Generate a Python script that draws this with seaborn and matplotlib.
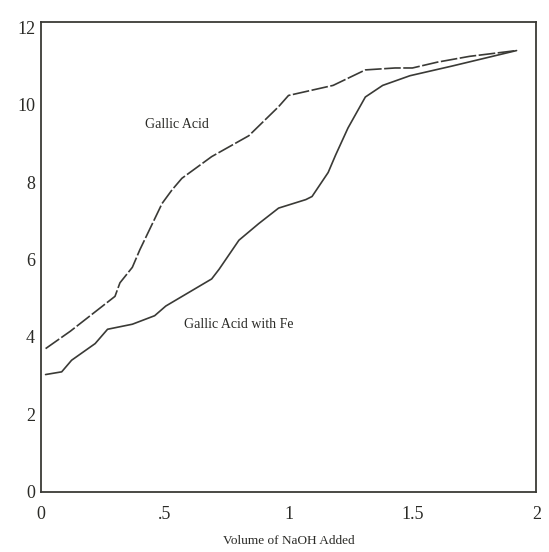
import matplotlib
matplotlib.use("Agg")
import matplotlib.pyplot as plt
import seaborn as sns
import pandas as pd

# Gallic Acid titration curve
ga_x = [0.02, 0.12, 0.23, 0.30, 0.32, 0.37, 0.40, 0.49, 0.53, 0.57, 0.69, 0.84, 0.96, 1.00,
        1.18, 1.31, 1.43, 1.50, 1.60, 1.73, 1.92]
ga_y = [3.7, 4.15, 4.7, 5.05, 5.4, 5.8, 6.25, 7.45, 7.8, 8.1, 8.66, 9.2, 9.95, 10.24,
        10.5, 10.9, 10.95, 10.95, 11.1, 11.25, 11.4]

# Gallic Acid with Fe titration curve
fe_x = [0.02, 0.085, 0.125, 0.22, 0.27, 0.37, 0.46, 0.505, 0.69, 0.72, 0.80, 0.88,
        0.96, 1.02, 1.07, 1.095, 1.16, 1.19, 1.24, 1.31, 1.38, 1.49, 1.66, 1.92]
fe_y = [3.03, 3.1, 3.4, 3.83, 4.2, 4.33, 4.55, 4.8, 5.5, 5.75, 6.5, 6.93,
        7.33, 7.45, 7.55, 7.63, 8.25, 8.7, 9.4, 10.2, 10.5, 10.75, 11.0, 11.4]

x_ticks = [0, 0.5, 1, 1.5, 2]
x_tick_labels = ["0", ".5", "1", "1.5", "2"]
y_ticks = [0, 2, 4, 6, 8, 10, 12]

sns.set_style("white")
plt.rcParams["font.family"] = ["Liberation Serif", "DejaVu Serif"]

df = pd.concat([
    pd.DataFrame({"vol": ga_x, "pH": ga_y, "series": "Gallic Acid"}),
    pd.DataFrame({"vol": fe_x, "pH": fe_y, "series": "Gallic Acid with Fe"}),
])

fig = plt.figure(figsize=(5.49, 5.52), dpi=100)
ax = fig.add_axes([0.074, 0.109, 0.903, 0.852])

sns.lineplot(data=df, x="vol", y="pH", hue="series", style="series",
             palette={"Gallic Acid": "#3a3a36", "Gallic Acid with Fe": "#3a3a36"},
             dashes={"Gallic Acid": (10, 1.5), "Gallic Acid with Fe": ""},
             linewidth=1.2, sort=False, estimator=None, legend=False, ax=ax)

ax.set_xlim(0, 2)
ax.set_ylim(0, 12.15)
ax.set_xticks(x_ticks)
ax.set_xticklabels(x_tick_labels)
ax.set_yticks(y_ticks)
ax.tick_params(axis="both", length=0, labelsize=13, colors="#2a2a26")
ax.tick_params(axis="x", pad=10)
ax.tick_params(axis="y", pad=4)
for s in ax.spines.values():
    s.set_color("#3a3a36")
    s.set_linewidth(1.3)

ax.set_xlabel("Volume of NaOH Added", fontsize=9.5, labelpad=9, color="#2a2a26")
ax.set_ylabel("")

ax.text(0.55, 9.5, "Gallic Acid", fontsize=10, ha="center", va="center", color="#2a2a26")
ax.text(0.8, 4.33, "Gallic Acid with Fe", fontsize=10, ha="center", va="center", color="#2a2a26")

fig.savefig("out.png", dpi=100)
